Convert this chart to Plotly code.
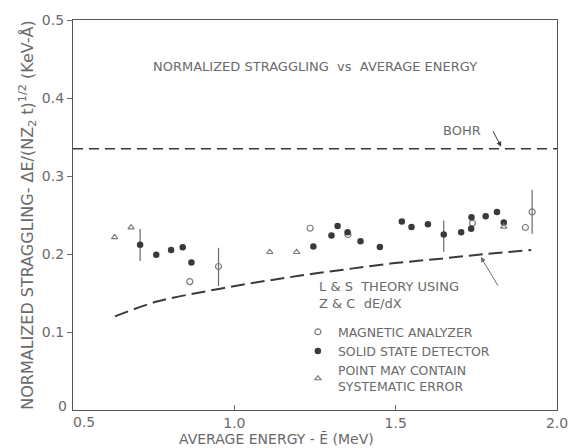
import plotly.graph_objects as go

# Solid state detector points (MeV, keV-Å)
ssd_e = [0.708, 0.758, 0.804, 0.840, 0.867, 1.245, 1.301, 1.320, 1.351, 1.391, 1.451,
         1.519, 1.549, 1.600, 1.649, 1.703, 1.734, 1.735, 1.779, 1.814, 1.835]
ssd_s = [0.212, 0.199, 0.205, 0.2085, 0.189, 0.2097, 0.2237, 0.236, 0.228, 0.2165, 0.209,
         0.2418, 0.2346, 0.238, 0.225, 0.228, 0.2325, 0.247, 0.2485, 0.254, 0.2405]
# error bars on selected solid state points (upper, lower half-widths)
ssd_err_hi = [0.020, 0, 0, 0, 0, 0, 0, 0, 0, 0, 0, 0, 0, 0, 0.018, 0, 0, 0, 0, 0, 0]
ssd_err_lo = [0.021, 0, 0, 0, 0, 0, 0, 0, 0, 0, 0, 0, 0, 0, 0.022, 0, 0, 0, 0, 0, 0]

# Magnetic analyzer points
mag_e = [0.862, 0.951, 1.235, 1.352, 1.738, 1.902, 1.923]
mag_s = [0.1646, 0.184, 0.233, 0.225, 0.2396, 0.234, 0.254]
mag_err_hi = [0, 0.024, 0, 0, 0, 0, 0.028]
mag_err_lo = [0, 0.025, 0, 0, 0, 0, 0.028]

# Points that may contain systematic error
sys_e = [0.629, 0.680, 1.110, 1.193, 1.835]
sys_s = [0.2215, 0.234, 0.2025, 0.2025, 0.235]

# Lindhard & Scharff theory with Ziegler & Chu dE/dx
ls_e = [0.63, 0.76, 0.91, 1.06, 1.20, 1.34, 1.49, 1.64, 1.78, 1.92]
ls_s = [0.120, 0.139, 0.152, 0.163, 0.172, 0.180, 0.188, 0.194, 0.200, 0.205]

# Bohr value
bohr_e = [0.5, 2.0]
bohr_s = [0.335, 0.335]

x_ticks = [1.0, 1.5, 2.0]
x_ticktext = ["1.0", "1.5", "2.0"]
y_ticks = [0.1, 0.2, 0.3, 0.4, 0.5]
y_ticktext = ["0.1", "0.2", "0.3", "0.4", "0.5"]

INK = "#3a3a3a"
GREY = "#6a6a6a"
FONT = "DejaVu Sans"

fig = go.Figure()

fig.add_trace(go.Scatter(
    x=bohr_e, y=bohr_s, mode="lines", showlegend=False, hoverinfo="skip",
    line=dict(color=INK, width=1.5, dash="10px,6px"),
))
fig.add_trace(go.Scatter(
    x=ls_e, y=ls_s, mode="lines", showlegend=False, hoverinfo="skip", line_shape="spline",
    line=dict(color=INK, width=2, dash="14px,6px"),
))

fig.add_trace(go.Scatter(
    x=mag_e, y=mag_s, mode="markers", name="MAGNETIC ANALYZER",
    marker=dict(symbol="circle-open", size=6, color="#7a7a7a", line=dict(width=1.2)),
    error_y=dict(type="data", symmetric=False, array=mag_err_hi, arrayminus=mag_err_lo,
                 color=GREY, thickness=1.2, width=0),
))
fig.add_trace(go.Scatter(
    x=ssd_e, y=ssd_s, mode="markers", name="SOLID STATE DETECTOR",
    marker=dict(symbol="circle", size=6.5, color=INK),
    error_y=dict(type="data", symmetric=False, array=ssd_err_hi, arrayminus=ssd_err_lo,
                 color=GREY, thickness=1.2, width=0),
))
fig.add_trace(go.Scatter(
    x=sys_e, y=sys_s, mode="markers", name="POINT MAY CONTAIN<br>SYSTEMATIC ERROR",
    marker=dict(symbol="triangle-up-open", size=5.5, color="#7a7a7a", line=dict(width=1.1)),
))

ann_font = dict(family=FONT, size=13, color=GREY)
annotations = [
    dict(x=0.5, y=1, xref="paper", yref="paper", text="NORMALIZED STRAGGLING  vs  AVERAGE ENERGY",
         showarrow=False, xanchor="center", yanchor="middle", yshift=-46,
         font=dict(family=FONT, size=13, color=GREY)),
    dict(x=1.706, y=0.358, text="BOHR", showarrow=False, font=ann_font),
    dict(x=1.827, y=0.3376, ax=-9, ay=-17, text="", showarrow=True, arrowhead=2,
         arrowsize=1, arrowwidth=1, arrowcolor=INK),
    dict(x=1.764, y=0.196, ax=18, ay=30, text="", showarrow=True, arrowhead=2,
         arrowsize=1, arrowwidth=1, arrowcolor=GREY),
    dict(x=(323 - 73) / 330 + 0.5, y=(410 - 294) / 790, text="L & S  THEORY USING<br>Z & C  dE/dX",
         showarrow=False, xanchor="left", yanchor="middle", align="left", font=ann_font),
    dict(x=0, y=0, xref="paper", yref="paper", text="0", showarrow=False,
         xanchor="right", yanchor="middle", xshift=-4, yshift=4,
         font=dict(family=FONT, size=14, color=GREY)),
    dict(x=0, y=0, xref="paper", yref="paper", text="0.5", showarrow=False,
         xanchor="left", yanchor="top", xshift=-2, yshift=-2,
         font=dict(family=FONT, size=14, color=GREY)),
    dict(x=0.42, y=0, xref="paper", yref="paper", text="AVERAGE ENERGY - E\u0304 (MeV)",
         showarrow=False, xanchor="center", yanchor="top", yshift=-19,
         font=dict(family=FONT, size=14, color=GREY)),
]

fig.update_layout(
    width=580, height=448,
    margin=dict(l=73, r=12, t=15, b=38),
    paper_bgcolor="white", plot_bgcolor="white",
    font=dict(family=FONT, size=14, color=GREY),
    annotations=annotations,
    legend=dict(x=(303 - 73) / 495, y=(410 - 316) / 395, xanchor="left", yanchor="top",
                bgcolor="rgba(0,0,0,0)", font=dict(family=FONT, size=12.5, color=GREY),
                tracegroupgap=0, itemwidth=30),
    xaxis=dict(range=[0.5, 2.0], tickvals=x_ticks, ticktext=x_ticktext,
               ticks="inside", ticklen=5, tickcolor=GREY, showgrid=False, zeroline=False,
               showline=True, linecolor="#555", linewidth=1.2, mirror=True),
    yaxis=dict(range=[0, 0.5], tickvals=y_ticks, ticktext=y_ticktext,
               ticks="outside", ticklen=5, tickcolor=GREY, showgrid=False, zeroline=False,
               showline=True, linecolor="#555", linewidth=1.2, mirror=True,
               title=dict(text="NORMALIZED STRAGGLING- \u0394E/(NZ<sub>2</sub> t)<sup>1/2</sup> (KeV-\u00c5)",
                          font=dict(family=FONT, size=16, color=GREY), standoff=4)),
)

fig.write_html("out.html")
